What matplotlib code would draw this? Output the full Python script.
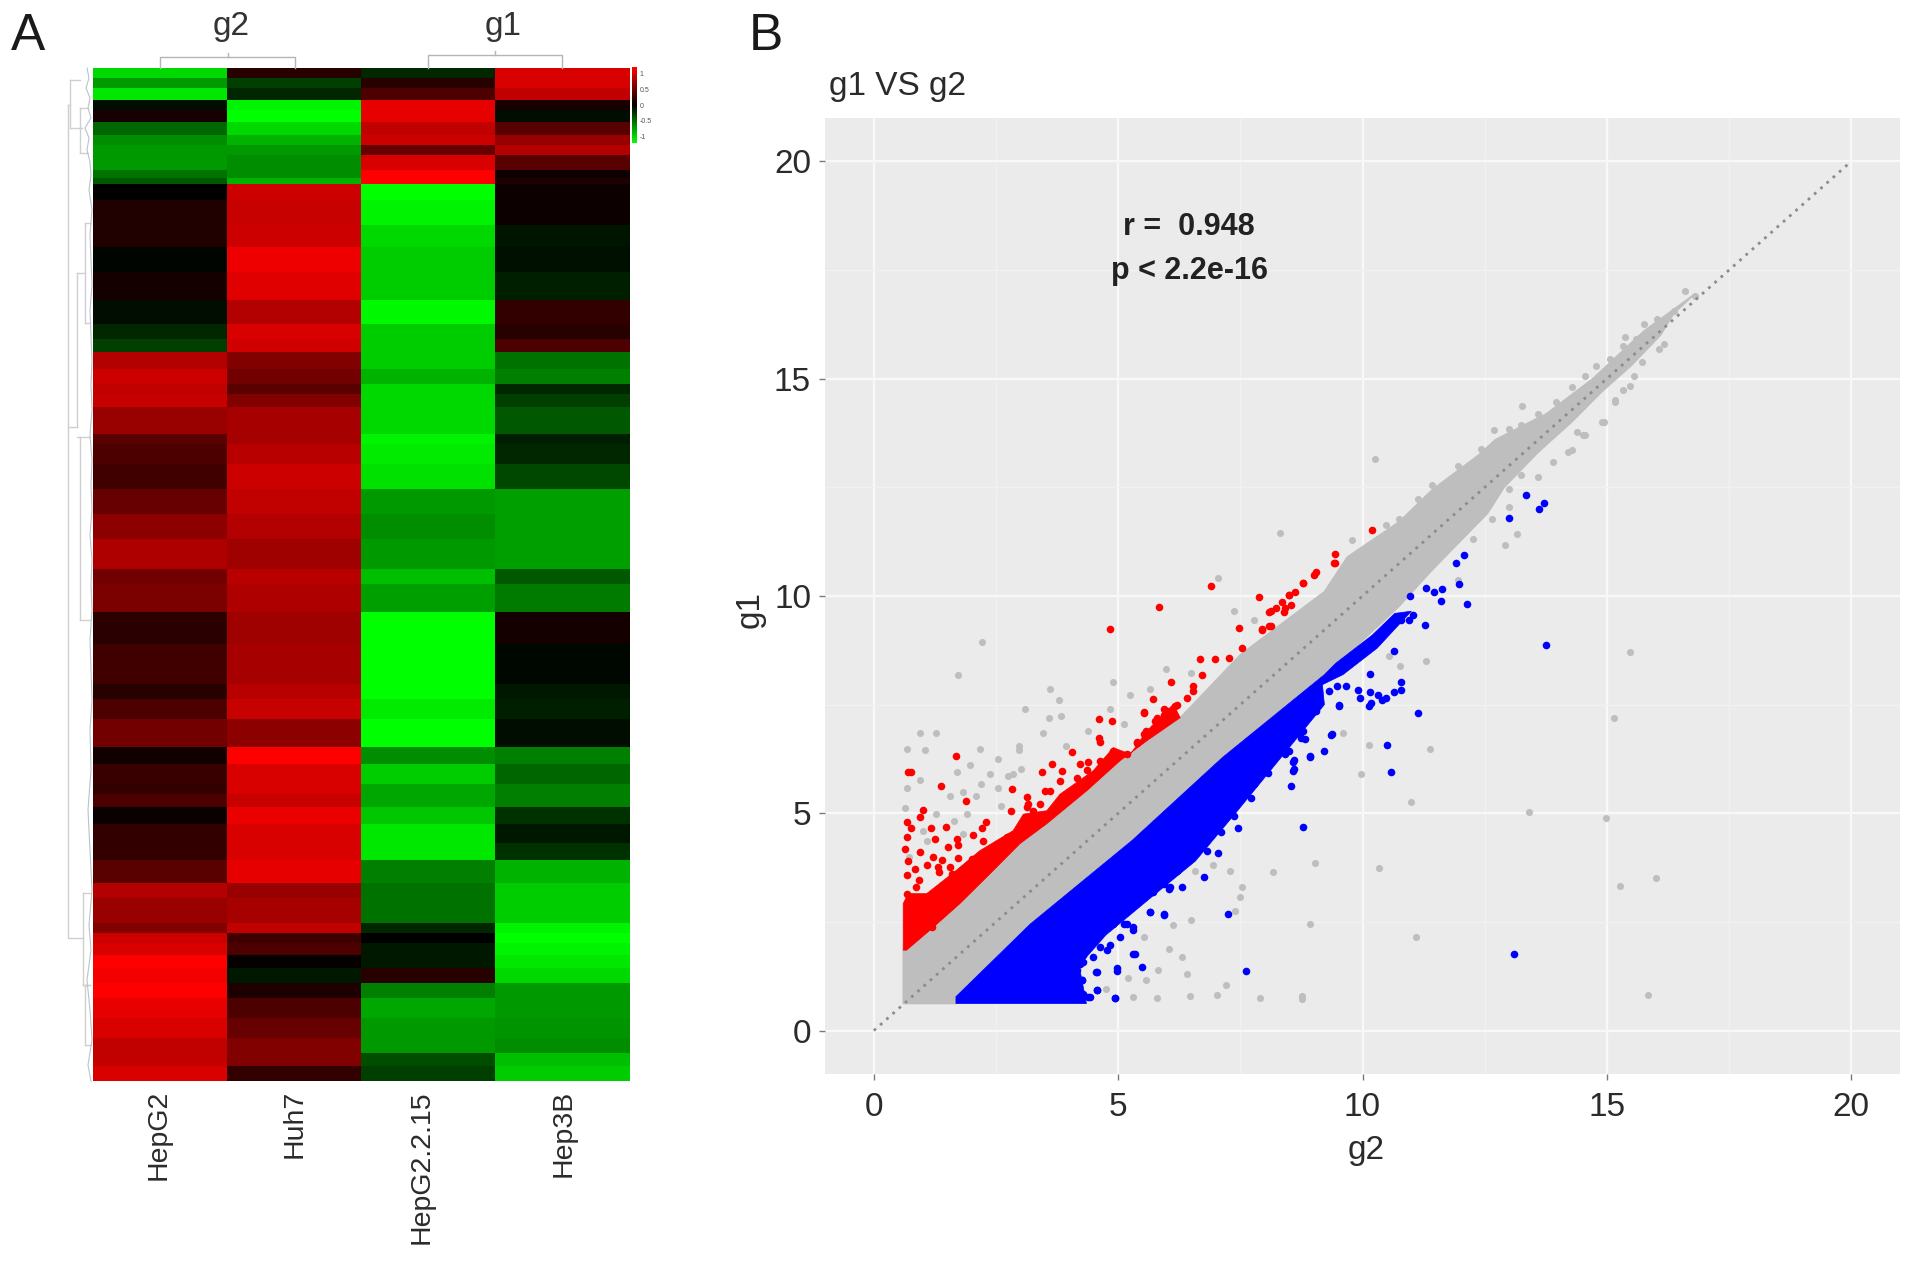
import numpy as np
import matplotlib
matplotlib.use("Agg")
import matplotlib.pyplot as plt
from matplotlib.colors import LinearSegmentedColormap

plt.rcParams['font.family'] = ['Liberation Sans', 'DejaVu Sans']

W, H = 1913, 1262

# panel A: heatmap bands, top to bottom (band_rows = rows per band)
cell_lines = ["HepG2", "Huh7", "HepG2.2.15", "Hep3B"]
band_rows = [10, 10, 12, 10, 12, 13, 10, 10, 15, 8, 6, 16, 25, 22, 25, 28, 25, 15, 13,
             17, 15, 10, 13, 27, 10, 20, 25, 25, 25, 30, 15, 28, 32, 40, 15, 20, 28,
             17, 20, 10, 13, 17, 20, 17, 23, 15, 25, 10, 10, 12, 13, 15, 15, 20, 20, 15, 13, 15]
hepg2 = [-.85, -.6, -.9, -.05, .1, -.4, -.55, -.6, -.6, -.45, -.35, 0, .13, .13, -.02, .08, -.05, -.15, -.25,
         .7, .8, .75, .78, .6, .35, .3, .25, .4, .55, .68, .45, .48, .17, .25, .15, .3, .45,
         .07, .22, .2, .3, .04, .2, .2, .35, .7, .6, .5, .8, .85, 1, .95, 1, .9, .85, .75, .75, .85]
huh7 = [.15, -.25, -.15, -.95, -1, -.85, -.7, -.6, -.55, -.55, -.7, .8, .78, .8, .93, .88, .7, .85, .82,
        .5, .45, .35, .5, .65, .65, .72, .8, .75, .7, .62, .72, .68, .62, .65, .72, .78, .55,
        1, .85, .85, .78, .92, .85, .85, .9, .6, .65, .75, .25, .3, .03, -.1, .12, .3, .4, .5, .5, .2]
hepg2215 = [-.15, .15, .3, .9, .9, .75, .8, .4, .85, 1, 1, -1, -.95, -.85, -.8, -.8, -.97, -.8, -.8,
            -.8, -.7, -.85, -.85, -.85, -.95, -.92, -.88, -.6, -.55, -.6, -.75, -.62, -1, -1, -1, -.92, -1,
            -.55, -.8, -.65, -.65, -.78, -.9, -.9, -.5, -.45, -.45, -.15, 0, -.1, -.1, .15, -.5, -.65, -.6, -.6, -.3, -.25]
hep3b = [.85, .85, .75, .1, -.05, .35, .6, .7, .35, .05, .12, .05, .05, -.08, -.07, -.12, .2, .15, .3,
         -.45, -.5, -.15, -.25, -.35, -.12, -.15, -.28, -.62, -.62, -.62, -.35, -.48, .08, -.03, -.1, -.12, -.05,
         -.5, -.4, -.5, -.5, -.2, -.1, -.2, -.7, -.8, -.8, -.95, -1, -.95, -.9, -.85, -.6, -.6, -.58, -.55, -.75, -.8]

# row dendrogram and column brackets, read in picture pixels
dendro_x = [[68, 68], [68, 70], [70, 70], [70, 80], [70, 82], [80, 80], [80, 88], [80, 88], [68, 77], [77, 77],
            [77, 85], [85, 85], [85, 90], [85, 90], [77, 80], [80, 80], [80, 90], [80, 90], [69, 83], [83, 83],
            [83, 90], [83, 90], [83, 85], [85, 85], [85, 90], [85, 90]]
dendro_y = [[105, 938], [105, 105], [80, 128], [80, 80], [128, 128], [108, 153], [108, 108], [153, 153], [427, 427], [273, 427],
            [273, 273], [223, 323], [223, 223], [323, 323], [437, 437], [437, 620], [437, 437], [620, 620], [938, 938], [893, 985],
            [893, 893], [985, 985], [985, 985], [985, 1045], [985, 985], [1045, 1045]]
leaf_x = [87, 89, 86, 90, 88, 91, 85, 89, 87, 90, 91, 89, 92, 90, 91, 92, 90, 91, 92, 91, 92, 90, 92, 91,
          92, 90, 92, 91, 92, 90, 91, 92, 90, 91, 88, 90, 92, 89, 91, 87, 90, 92, 88, 91]
leaf_y = [68, 78, 88, 98, 108, 118, 128, 138, 150, 162, 175, 190, 210, 235, 260, 285, 310, 335, 360, 385, 410, 435, 460, 485,
          510, 535, 560, 585, 610, 640, 670, 700, 730, 770, 810, 850, 890, 925, 950, 980, 1010, 1040, 1065, 1081]
bracket_x = [[160, 160, 295, 295], [428, 428, 562, 562]]
bracket_y = [[68, 57, 57, 68], [68, 55, 55, 68]]

colorbar_ticks = ["1", "0.5", "0", "-0.5", "-1"]
colorbar_vals = [1, 0.5, 0, -0.5, -1]

# panel B: outlines of the solid regions
grey_up_x = [.6, .6, 1.15, 1.76, 2.38, 2.99, 3.54, 4.36, 5.04, 5.59, 6.27, 7.5, 9.22, 9.69, 10.74, 11.43, 12.38, 12.72, 13.77, 14.71, 15.76, 16.8]
grey_up_y = [.62, 1.86, 2.31, 2.92, 3.61, 4.3, 4.76, 5.52, 6.21, 6.67, 7.2, 8.65, 10.1, 10.9, 11.7, 12.45, 13.25, 13.6, 14.2, 15.0, 16.1, 16.95]
grey_low_x = [16.37, 16.1, 15.5, 14.9, 14.28, 13.59, 12.9, 12.56, 11.95, 11.43, 10.74, 9.45, 9.22, 7.13, 5.29, 3.2, 1.68, 1.68]
grey_low_y = [16.5, 16.0, 15.3, 14.7, 14.0, 13.3, 12.5, 11.9, 11.2, 10.6, 9.75, 8.4, 8.19, 6.28, 4.38, 2.45, .78, .62]

blue_x = [1.68, 3.2, 5.29, 7.13, 9.22, 9.45, 10.2, 10.66, 11.0, 10.3, 9.6, 9.18, 9.22, 8.2, 7.4, 6.58, 5.66, 4.75, 4.2, 4.35, 1.68]
blue_y = [.78, 2.45, 4.38, 6.28, 8.19, 8.45, 9.1, 9.6, 9.65, 8.8, 8.19, 7.96, 7.5, 6.1, 5.0, 3.9, 3.05, 2.2, 1.5, .62, .62]

red_x = [.6, .6, .7, 1.08, 1.69, 2.17, 2.85, 3.06, 3.54, 3.81, 4.49, 4.9, 5.25, 5.59, 6.13, 6.27, 5.59, 5.04, 4.36, 3.54, 2.99, 2.38, 1.76, 1.15, .67]
red_y = [1.85, 2.92, 3.15, 3.15, 3.69, 4.14, 4.6, 4.98, 5.06, 5.44, 5.98, 6.51, 6.36, 6.9, 7.51, 7.2, 6.67, 6.21, 5.52, 4.76, 4.3, 3.61, 2.92, 2.31, 1.85]

# single points
red_pts_x = [.70, .77, 1.69, 1.37, 1.89, 2.83, 2.80, 1.01, .94, .67, .77, 1.16, 1.48, 2.30, 2.21, 2.02, .67, 1.25, 1.71, 2.24,
             1.73, 1.51, .635, .94, .70, 1.22, 1.39, 1.73, 2.0, 1.08, .84, 1.32, 1.56, 1.34, 1.59, .67, .93, .86, .67, 4.60,
             4.88, 4.60, 4.62, 4.05, 3.64, 3.45, 5.52, 5.38, 3.50, 3.13, 3.16, 2.51, 2.72, 3.26, 3.85, 4.22, 4.39,
             4.84, 5.83, 6.90, 7.88, 9.43, 9.05, 8.78, 8.50, 8.13, 8.41, 7.95, 8.13, 7.48, 7.54, 7.27, 6.67, 6.99, 6.72, 6.09,
             6.53, 6.21, 5.71, 5.53, 5.94, 10.2, 9.44, 9.42, 9.01, 8.79, 8.62, 8.49, 8.35, 8.53, 8.22, 8.09, 8.40, 8.09, 7.95,
             .81, 1.01, 1.18, 1.49, 1.90, 2.17, 2.45, 2.72, 2.99, 3.33, 3.13, 3.40, 3.61, 3.81, 4.15, 4.36, 4.63, 4.9, 5.18, 5.52,
             5.79, 6.0, 6.17, 6.40, 6.53, 5.94, 5.76, 5.57, 5.39]
red_pts_y = [5.96, 5.96, 6.31, 5.63, 5.29, 5.56, 5.05, 5.08, 4.92, 4.79, 4.66, 4.66, 4.69, 4.79, 4.66, 4.51, 4.46, 4.41, 4.41, 4.37,
             4.26, 4.22, 4.18, 4.10, 3.91, 3.99, 3.93, 3.97, 3.94, 3.81, 3.72, 3.76, 3.76, 3.65, 3.61, 3.59, 3.46, 3.30, 3.15, 7.18,
             7.12, 6.74, 6.63, 6.40, 6.13, 5.94, 7.32, 6.63, 5.52, 5.37, 5.21, 4.30, 4.45, 5.06, 5.98, 6.13, 6.17,
             9.23, 9.74, 10.22, 9.97, 10.76, 10.56, 10.3, 10.03, 9.65, 9.72, 9.23, 9.30, 9.26, 8.80, 8.58, 8.54, 8.54, 8.18, 8.03,
             7.81, 7.50, 7.62, 7.31, 7.39, 11.51, 10.96, 10.75, 10.48, 10.29, 10.10, 10.02, 9.87, 9.79, 9.72, 9.64, 9.64, 9.30, 9.22,
             3.07, 2.99, 2.38, 3.03, 3.53, 3.76, 3.99, 4.22, 4.45, 4.83, 5.14, 5.21, 5.52, 5.75, 5.82, 6.0, 6.21, 6.44, 6.36, 6.82,
             7.2, 7.35, 7.47, 7.66, 7.93, 7.27, 7.12, 6.89, 6.62]

blue_pts_x = [13.34, 13.71, 13.62, 12.99, 12.08, 11.91, 11.97, 11.30, 11.46, 11.63, 10.98, 11.61, 12.13, 11.04, 10.96, 10.78, 11.28, 13.76,
              10.64, 10.16, 9.48, 9.66, 9.90, 9.94, 10.15, 10.31, 10.48, 10.18, 10.13, 10.65, 10.78, 10.78, 10.39, 9.51, 11.13, 9.35, 8.79, 8.74,
              10.50, 9.22, 8.92, 10.58, 8.79, 8.53, 8.07, 8.57, 8.57, 8.49, 13.11, 8.59, 8.59, 8.93, 9.37, 7.72, 7.45, 7.11, 7.04, 6.81, 6.30, 6.03,
              5.94, 5.65, 7.25, 7.61, 5.48, 5.34, 4.98, 4.55, 4.93, 4.57, 4.38, 4.25, 4.29, 4.43, 4.84, 5.12, 5.30, 6.76, 6.58,
              6.07, 5.66, 5.93, 4.9, 5.18, 5.31, 4.77, 5.31, 4.97, 4.56, 4.25, 4.56, 4.94, 4.43, 4.29, 4.22, 4.29, 4.63, 4.77, 4.49, 5.04, 4.36, 4.22, 3.95, 4.15,
              7.77, 7.63, 7.36, 7.17, 6.95, 6.67, 6.49, 6.76, 6.21, 5.94, 5.71, 8.04, 8.41, 8.73, 8.82, 9.05, 9.51, 9.32, 8.96, 8.5, 8.18, 7.95]
blue_pts_y = [12.32, 12.13, 12.01, 11.80, 10.94, 10.77, 10.28, 10.19, 10.10, 10.15, 10.01, 9.89, 9.82, 9.56, 9.45, 9.45, 9.34, 8.88,
              8.74, 8.20, 7.94, 7.94, 7.84, 7.65, 7.80, 7.73, 7.65, 7.54, 7.46, 7.80, 7.84, 8.03, 7.61, 7.48, 7.31, 6.81, 6.89, 6.73,
              6.58, 6.43, 6.31, 5.94, 4.68, 5.62, 5.92, 6.19, 5.98, 6.44, 1.77, 6.01, 6.22, 6.30, 6.82, 5.34, 4.66, 4.56, 4.08, 4.14, 3.30, 3.26,
              2.67, 2.72, 2.68, 1.37, 1.46, 1.77, 1.38, 1.35, .76, .94, .77, 1.17, 1.58, 2.07, 1.96, 2.46, 2.38, 3.53, 4.25,
              3.30, 2.73, 2.69, 2.46, 2.46, 2.31, 2.57, 1.77, 1.43, 1.35, 1.16, .93, .76, .77, .85, 1.54, 1.73, 1.92, 1.85, 1.70, 2.15, 2.15, 2.08, 1.16, 1.39,
              5.67, 5.51, 4.94, 4.98, 4.83, 4.37, 4.14, 4.52, 3.68, 3.37, 3.18, 6.2, 6.36, 6.82, 6.70, 7.35, 7.5, 7.81, 7.58, 7.2, 6.59, 5.97]

grey_pts_x = [16.59, 13.27, 10.26, 8.31, 9.79, 14.21, 14.51, 14.38, 14.90, 15.16, 15.38, 15.47, 13.17, 12.91, 13.0, 11.95, 11.30, 15.48, 15.14,
              10.76, 10.55, 9.61, 10.13, 11.39, 9.97, 11.0, 13.40, 14.99, 10.33, 9.02, 8.17, 15.26, 16.01, 8.92, 11.10, 15.84, 8.77, 7.91,
              2.22, 1.73, 3.61, 4.89, 3.79, 3.10, 3.59, 3.83, 3.47, .95, 1.27, .68, 1.04, 2.17, 2.97, 2.97, 2.54, 1.96, 2.85, 3.01, 2.74, 2.37,
              1.70, .95, .68, .63, 1.55, 2.10, 1.82, 2.55, 2.19, 1.27, 1.91, 1.64, 2.60, 1.09, 1.82, .72, 1.0, 7.36, 7.04, 7.77, 5.97, 6.49, 5.66,
              5.25, 4.84, 4.38, 5.12, 3.93, 6.95, 7.29, 6.58, 7.54, 7.49, 7.40, 6.49, 6.12, 6.03, 6.30, 6.40, 7.20, 5.82, 5.53, 5.21, 5.57, 5.30,
              5.80, 6.47, 7.02, 8.76, 4.75,
              16.81, 16.37, 16.03, 15.77, 15.6, 15.34, 15.07, 14.77, 14.55, 14.29, 13.95, 13.6, 13.25, 12.99, 12.69, 12.43, 11.95, 11.43, 11.13, 10.74, 10.48,
              16.16, 16.07, 15.72, 15.55, 15.34, 15.16, 14.95, 14.56, 14.29, 13.9, 13.6, 13.25, 12.99, 12.65, 12.26]
grey_pts_y = [17.02, 14.38, 13.16, 11.44, 11.29, 13.31, 13.70, 13.77, 14.0, 14.46, 15.95, 14.84, 11.42, 11.17, 12.05, 10.37, 8.51, 8.72, 7.19,
              8.38, 8.61, 6.85, 6.57, 6.48, 5.90, 5.26, 5.04, 4.88, 3.75, 3.86, 3.64, 3.33, 3.51, 2.46, 2.15, .82, .73, .75,
              8.93, 8.19, 7.85, 8.02, 7.60, 7.40, 7.20, 7.24, 6.85, 6.84, 6.84, 6.49, 6.45, 6.47, 6.55, 6.45, 6.26, 6.11, 5.90, 6.01, 5.86, 5.90,
              5.94, 5.76, 5.59, 5.13, 5.40, 5.40, 5.48, 5.59, 5.67, 4.98, 4.98, 4.83, 5.17, 4.37, 4.52, 3.99, 4.6, 9.65, 10.41, 9.45, 8.31, 8.23, 7.85,
              7.73, 7.39, 6.89, 7.05, 6.55, 3.80, 3.68, 3.68, 3.30, 3.07, 2.76, 2.55, 2.42, 1.88, 1.69, 1.31, 1.05, 1.40, 2.15, 1.22, 1.17, .77,
              .76, .79, .81, .79, .96,
              16.9, 16.56, 16.37, 16.26, 15.91, 15.76, 15.46, 15.3, 15.07, 14.8, 14.46, 14.19, 13.93, 13.85, 13.81, 13.39, 13.0, 12.55, 12.24, 11.78, 11.63,
              15.8, 15.68, 15.38, 15.07, 14.73, 14.5, 14.0, 13.7, 13.35, 13.08, 12.74, 12.78, 12.47, 11.78, 11.32]

ticks = [0, 5, 10, 15, 20]
minor_ticks = [2.5, 7.5, 12.5, 17.5]


def add_axes_px(fig, left, top, right, bottom):
    return fig.add_axes([left / W, 1 - bottom / H, (right - left) / W, (bottom - top) / H])


fig = plt.figure(figsize=(W / 100, H / 100), dpi=100)

rg = LinearSegmentedColormap.from_list("gbr", ["#00ff00", "#000000", "#ff0000"])

# heatmap
ax_h = add_axes_px(fig, 93, 68, 630, 1081)
mat = np.repeat(np.array([hepg2, huh7, hepg2215, hep3b]).T, band_rows, axis=0)
ax_h.imshow(mat, cmap=rg, vmin=-1, vmax=1, aspect="auto", interpolation="nearest")
ax_h.axis("off")

# colour key
ax_c = add_axes_px(fig, 632, 67, 637, 143)
ax_c.imshow(np.linspace(1, -1, 100).reshape(-1, 1), cmap=rg, vmin=-1, vmax=1, aspect="auto",
            extent=[0, 1, -1.2, 1.2])
ax_c.set_xticks([])
ax_c.set_yticks(colorbar_vals, colorbar_ticks, fontsize=5, color="#555555")
ax_c.yaxis.tick_right()
ax_c.tick_params(axis="y", length=0, pad=2)
for s in ax_c.spines.values():
    s.set_visible(False)

# scatter
ax = add_axes_px(fig, 825, 118, 1900, 1074)
ax.set_facecolor("#EBEBEB")
ax.set_xlim(-1, 21)
ax.set_ylim(-1, 21)
for s in ax.spines.values():
    s.set_visible(False)
ax.set_xticks(ticks)
ax.set_yticks(ticks)
ax.set_xticks(minor_ticks, minor=True)
ax.set_yticks(minor_ticks, minor=True)
ax.grid(True, which="major", color="#F8F8F8", lw=1.7)
ax.grid(True, which="minor", color="#F1F1F1", lw=1.0)
ax.set_axisbelow(True)
ax.tick_params(axis="both", which="major", length=4, width=1, color="#7a7a7a",
               labelsize=24, labelcolor="#2b2b2b", pad=6)
ax.tick_params(axis="x", which="major", pad=9)
ax.tick_params(axis="both", which="minor", length=0)

ax.scatter(grey_pts_x, grey_pts_y, s=26, color="#BEBEBE", linewidths=0, zorder=2)
ax.fill(grey_up_x + grey_low_x, grey_up_y + grey_low_y, color="#BEBEBE", lw=1, zorder=3)
ax.plot([0, 20], [0, 20], ls=(0, (1, 2)), color="#8c8c8c", lw=2, zorder=4)
ax.fill(red_x, red_y, color="#FF0000", lw=0.5, zorder=5)
ax.fill(blue_x, blue_y, color="#0000FF", lw=0.5, zorder=5)
ax.scatter(red_pts_x, red_pts_y, s=30, color="#FF0000", linewidths=0, zorder=6)
ax.scatter(blue_pts_x, blue_pts_y, s=30, color="#0000FF", linewidths=0, zorder=6)

ax.text(6.45, 18.5, "r =  0.948", fontsize=22, fontweight="bold", color="#222222", ha="center", va="center", zorder=7)
ax.text(6.45, 17.47, "p < 2.2e-16", fontsize=22, fontweight="bold", color="#222222", ha="center", va="center", zorder=7)

# overlay in picture pixels for brackets and panel text
ov = fig.add_axes([0, 0, 1, 1], facecolor="none")
ov.set_xlim(0, W)
ov.set_ylim(H, 0)
ov.axis("off")
for xs, ys in zip(dendro_x, dendro_y):
    ov.plot(xs, ys, color="#cfcfcf", lw=1)
ov.plot(leaf_x, leaf_y, color="#b9c3ca", lw=0.8)
for xs, ys in zip(bracket_x, bracket_y):
    ov.plot(xs, ys, color="#b5b5b5", lw=1)
ov.plot([228, 228], [53, 57], color="#b5b5b5", lw=1)
ov.plot([495, 495], [51, 55], color="#b5b5b5", lw=1)

ov.text(28, 36, "A", fontsize=37, ha="center", va="center", color="#1a1a1a")
ov.text(766, 37, "B", fontsize=37, ha="center", va="center", color="#1a1a1a")
ov.text(231, 27, "g2", fontsize=24, ha="center", va="center", color="#333333")
ov.text(503, 27, "g1", fontsize=24, ha="center", va="center", color="#333333")
ov.text(829, 87, "g1 VS g2", fontsize=24, ha="left", va="center", color="#2b2b2b")
ov.text(1366, 1151, "g2", fontsize=24, ha="center", va="center", color="#2b2b2b")
ov.text(750, 609, "g1", fontsize=24, rotation=90, ha="center", va="center", color="#2b2b2b")
for name, xpos in zip(cell_lines, [159, 295, 422, 564]):
    ov.text(xpos, 1090, name, fontsize=20.5, rotation=90, ha="center", va="top", color="#2b2b2b")

fig.savefig("out.png", dpi=100, facecolor="white")
